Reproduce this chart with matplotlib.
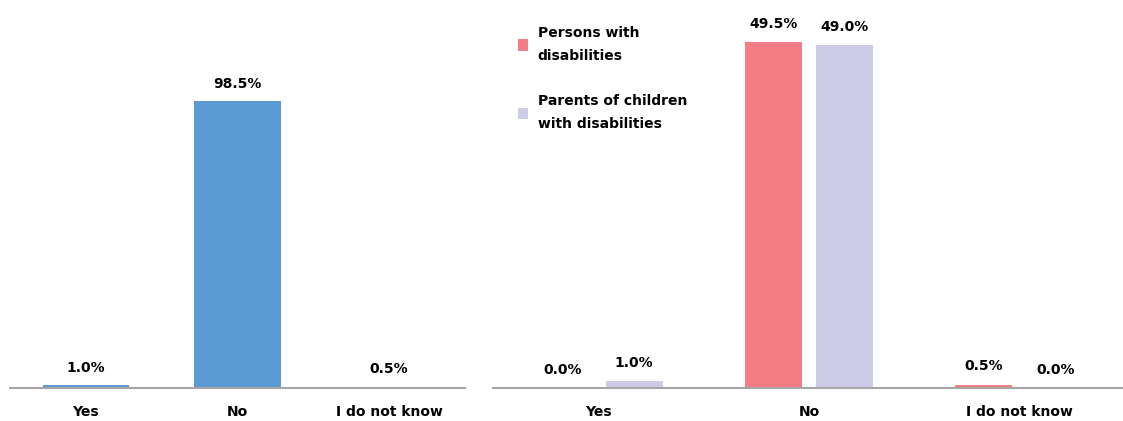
import matplotlib.pyplot as plt
import numpy as np

categories = ["Yes", "No", "I do not know"]
total_values = [1.0, 98.5, 0.5]
persons_values = [0.0, 49.5, 0.5]
parents_values = [1.0, 49.0, 0.0]
series_names = ["Persons with\ndisabilities", "Parents of children\nwith disabilities"]

blue = "#5B9BD5"
red = "#F47C84"
lavender = "#CCCCE8"
axis_gray = "#A6A6A6"

plt.rcParams['font.family'] = ['DejaVu Sans']

fig = plt.figure(figsize=(11.23, 4.21), dpi=100)
W, H = 1123, 421
base = 388

# left chart
ax1 = fig.add_axes([10 / W, 1 - base / H, 455 / W, (base - 10) / H])
x = np.arange(len(categories))
ax1.bar(x, total_values, width=0.57, color=blue)
for xi, v in zip(x, total_values):
    ax1.text(xi, v + 3.6, f"{v:.1f}%", ha='center', va='bottom',
             fontsize=10, fontweight='bold')
ax1.set_xlim(-0.5, 2.5)
ax1.set_ylim(0, 98.5 * (base - 10) / (base - 101))

# right chart
ax2 = fig.add_axes([493 / W, 1 - base / H, 632 / W, (base - 10) / H])
w, off = 0.27, 0.17
ax2.bar(x - off, persons_values, width=w, color=red, label=series_names[0])
ax2.bar(x + off, parents_values, width=w, color=lavender, label=series_names[1])
for xi, v in zip(x, persons_values):
    ax2.text(xi - off, v + 1.6, f"{v:.1f}%", ha='center', va='bottom',
             fontsize=10, fontweight='bold')
for xi, v in zip(x, parents_values):
    ax2.text(xi + off, v + 1.6, f"{v:.1f}%", ha='center', va='bottom',
             fontsize=10, fontweight='bold')
ax2.set_xlim(-0.5, 2.5)
ax2.set_ylim(0, 49.5 * (base - 10) / (base - 42))

for ax in (ax1, ax2):
    ax.set_xticks(x)
    ax.set_xticklabels(categories, fontsize=10, fontweight='bold')
    ax.tick_params(axis='x', length=0, pad=12)
    ax.set_yticks([])
    for s in ('top', 'right', 'left'):
        ax.spines[s].set_visible(False)
    ax.spines['bottom'].set_color(axis_gray)
    ax.spines['bottom'].set_linewidth(1.5)

leg = ax2.legend(loc='upper left', bbox_to_anchor=(0.02, 0.99), frameon=False,
                 handlelength=0.7, handleheight=0.9, handletextpad=0.7,
                 labelspacing=2.3, prop={'size': 10, 'weight': 'bold'})
for t in leg.get_texts():
    t.set_linespacing(1.75)

plt.savefig("out.png", dpi=100)
